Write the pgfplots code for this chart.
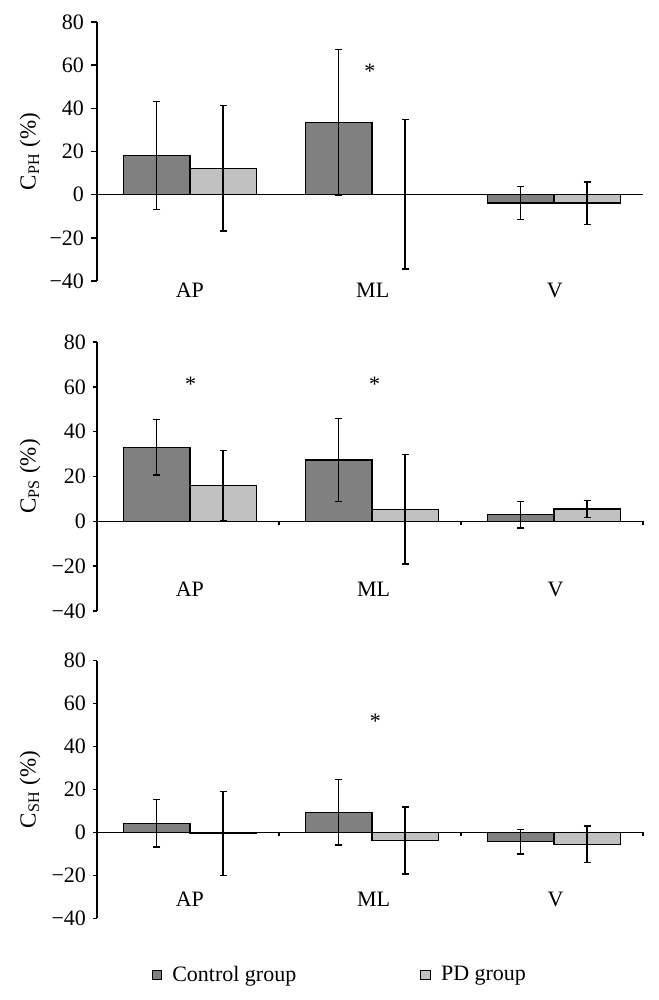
\documentclass[border=0pt]{standalone}
\usepackage{fontspec}
\setmainfont{Liberation Serif}
\usepackage{pgfplots}
\pgfplotsset{compat=1.18}
\usepackage{pgfplotstable}
\definecolor{ctrl}{HTML}{808080}
\definecolor{pdg}{HTML}{C0C0C0}

% Panel 1 (C_PH)
\pgfplotstableread{
x y e
-0.172 18.2 25.0
0.828 33.5 33.7
1.828 -3.9 7.6
}\ctrlA
\pgfplotstableread{
x y e
0.193 12.2 29.1
1.193 0.2 34.7
2.193 -3.9 9.8
}\pdA
% Panel 2 (C_PS)
\pgfplotstableread{
x y e
-0.172 33.0 12.4
0.828 27.4 18.5
1.828 3.0 6.0
}\ctrlB
\pgfplotstableread{
x y e
0.193 15.9 15.6
1.193 5.4 24.4
2.193 5.5 3.7
}\pdB
% Panel 3 (C_SH)
\pgfplotstableread{
x y e
-0.172 4.3 11.1
0.828 9.3 15.2
1.828 -4.3 5.7
}\ctrlC
\pgfplotstableread{
x y e
0.193 -0.5 19.5
1.193 -3.7 15.6
2.193 -5.5 8.5
}\pdC

\tikzset{
  lab/.style={font=\fontsize{11}{13}\selectfont, anchor=center},
  star/.style={font=\fontsize{11}{13}\selectfont, anchor=base, yshift=-4.5pt},
  ylab/.style={font=\fontsize{11.5}{13}\selectfont, rotate=90, anchor=center},
}
\pgfplotsset{
  ybar legend/.style={legend image code/.code={\draw[##1,draw=black,line width=0.5pt] (0pt,-2.3pt) rectangle (4.6pt,2.3pt);\path (7.8pt,0pt);}},
  panel/.style={
    scale only axis, width=273pt,
    xmin=-0.5, xmax=2.5, ymin=-40, ymax=80,
    ytick={-40,-20,0,20,40,60,80},
    yticklabels={−40,−20,0,20,40,60,80},
    axis y line=left, axis x line=middle,
    axis line style={-, line width=0.7pt, black},
    hide obscured x ticks=false, hide obscured y ticks=false,
    tick align=outside, major tick length=3pt,
    tick style={black, line width=0.7pt},
    xticklabels={},
    clip=false,
    ticklabel style={font=\fontsize{11}{13}\selectfont},
    ybar, bar width=0.365, bar shift=0pt,
    error bars/y dir=both, error bars/y explicit,
    error bars/error mark=-,
    error bars/error bar style={black, line width=0.65pt},
    error bars/error mark options={rotate=90, black, mark size=1.8pt, line width=0.65pt},
  },
  ctrlplot/.style={fill=ctrl, draw=black, line width=0.6pt},
  pdplot/.style={fill=pdg, draw=black, line width=0.6pt},
}

\begin{document}
\begin{tikzpicture}
\path[use as bounding box] (-48.5pt,11pt) rectangle (280.5pt,-489pt);

\begin{axis}[panel, height=129.5pt, at={(0pt,0pt)}, anchor=north west,
  xtick=\empty]
\addplot[ctrlplot] table[x=x,y=y,y error=e] {\ctrlA};
\addplot[pdplot] table[x=x,y=y,y error=e] {\pdA};
\node[lab] at (axis cs:0.01,-44.5) {AP};
\node[lab] at (axis cs:1.015,-44.5) {ML};
\node[lab] at (axis cs:2.015,-44.5) {V};
\node[star] at (axis cs:1.0,58.2) {*};
\node[ylab] at ([xshift=-33.5pt]rel axis cs:0,0.5) {C\textsubscript{PH} (\%)};
\end{axis}

\begin{axis}[panel, height=134.5pt, at={(0pt,-160pt)}, anchor=north west,
  xtick={0.5,1.5,2.5}, major tick length=2pt]
\addplot[ctrlplot] table[x=x,y=y,y error=e] {\ctrlB};
\addplot[pdplot] table[x=x,y=y,y error=e] {\pdB};
\node[lab] at (axis cs:0.01,-30.2) {AP};
\node[lab] at (axis cs:1.02,-30.2) {ML};
\node[lab] at (axis cs:2.02,-30.2) {V};
\node[star] at (axis cs:0.015,62) {*};
\node[star] at (axis cs:1.025,62) {*};
\node[ylab] at ([xshift=-33.5pt]rel axis cs:0,0.5) {C\textsubscript{PS} (\%)};
\end{axis}

\begin{axis}[panel, height=128.8pt, at={(0pt,-319.35pt)}, anchor=north west,
  xtick={0.5,1.5,2.5}, major tick length=2pt,
  legend style={at={(axis description cs:0.4465,-0.221)}, anchor=center, draw=none, fill=none,
    legend columns=2, font=\fontsize{11}{13}\selectfont,
    /tikz/every even column/.append style={column sep=60pt}}]
\addplot[ctrlplot] table[x=x,y=y,y error=e] {\ctrlC};
\addlegendentry{Control group}
\addplot[pdplot] table[x=x,y=y,y error=e] {\pdC};
\addlegendentry{PD group}
\node[lab] at (axis cs:0.01,-31) {AP};
\node[lab] at (axis cs:1.02,-31) {ML};
\node[lab] at (axis cs:2.02,-31) {V};
\node[star] at (axis cs:1.03,52.8) {*};
\node[ylab] at ([xshift=-33.5pt]rel axis cs:0,0.5) {C\textsubscript{SH} (\%)};
\end{axis}
\end{tikzpicture}
\end{document}
